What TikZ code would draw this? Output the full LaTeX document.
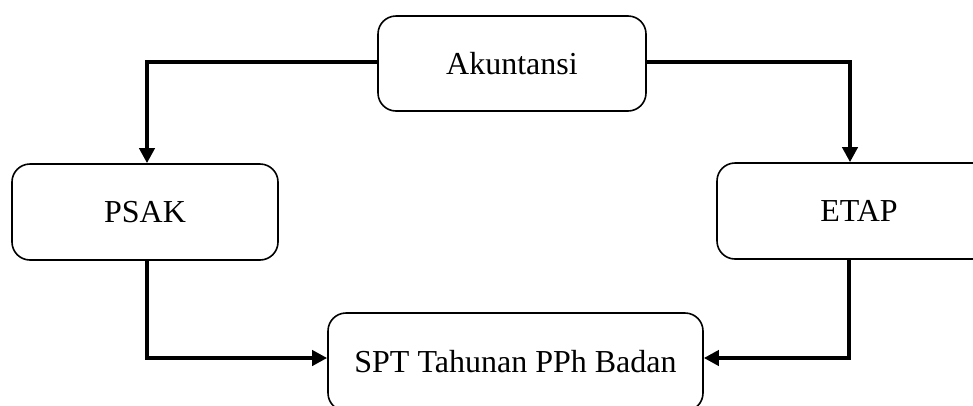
\documentclass[tikz,border=0pt]{standalone}
\usepackage{fontspec}
\setmainfont{Liberation Serif}
\usetikzlibrary{arrows.meta}
\tikzset{
  box/.style={draw, line width=1.6pt, rounded corners=18pt, inner sep=0pt,
    font=\fontsize{32}{38}\selectfont, align=center},
  conn/.style={line width=4pt, -{Triangle[length=15pt,width=15pt]}}
}
\begin{document}
\begin{tikzpicture}[x=1pt,y=-1pt]
\useasboundingbox (0,0) rectangle (973,405);
\clip (0,0) rectangle (973,405);
\node[box, minimum width=268pt, minimum height=95pt] (akun) at (512,63.5) {Akuntansi};
\node[box, minimum width=266pt, minimum height=96pt] (psak) at (145,212) {PSAK};
\node[box, minimum width=284pt, minimum height=96pt] (etap) at (859,211) {ETAP};
\node[box, minimum width=375pt, minimum height=98pt] (spt) at (515.5,362) {SPT Tahunan PPh Badan};
\draw[conn] ([yshift=1.5pt]akun.west) -| ([xshift=2pt]psak.north);
\draw[conn] ([yshift=1.5pt]akun.east) -| ([xshift=-9pt]etap.north);
\draw[conn] ([xshift=2pt]psak.south) |- ([yshift=4pt]spt.west);
\draw[conn] ([xshift=-10pt]etap.south) |- ([yshift=4pt]spt.east);
\end{tikzpicture}
\end{document}
